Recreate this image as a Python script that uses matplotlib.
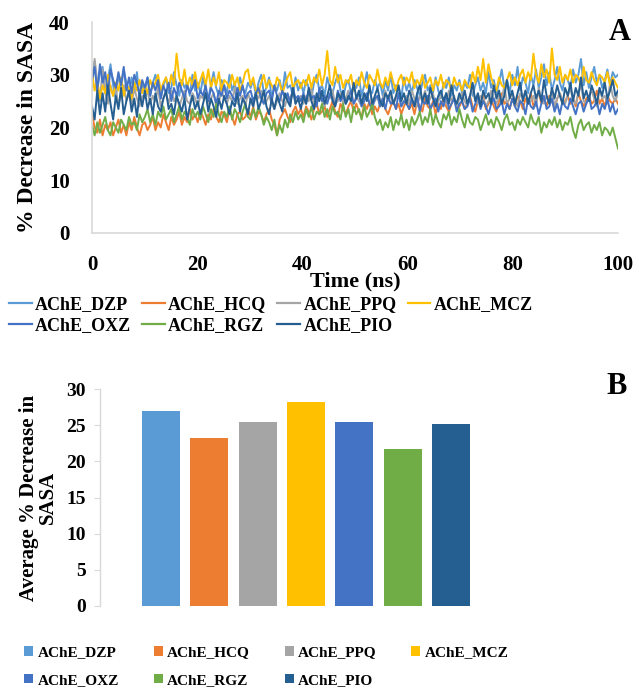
import numpy as np
import matplotlib
matplotlib.use("Agg")
import matplotlib.pyplot as plt
from matplotlib.lines import Line2D
from matplotlib.patches import Patch

plt.rcParams['font.family'] = ['Liberation Serif', 'DejaVu Serif']
plt.rcParams['font.weight'] = 'bold'

names = ["AChE_DZP", "AChE_HCQ", "AChE_PPQ", "AChE_MCZ", "AChE_OXZ", "AChE_RGZ", "AChE_PIO"]
colors = ["#5B9BD5", "#ED7D31", "#A5A5A5", "#FFC000", "#4472C4", "#70AD47", "#255E91"]

# Panel A: % decrease in SASA over time, 0-100 ns
DZP = [29.5, 32.5, 27.0, 30.5, 31.5, 26.5, 29.0, 32.0, 28.0, 25.5, 30.0, 27.5, 31.0, 28.5, 26.0, 29.5, 27.0, 30.5, 25.5, 28.0,
       27.0, 29.5, 26.0, 28.5, 30.0, 27.5, 25.5, 28.0, 29.5, 26.5, 27.5, 30.5, 28.0, 26.0, 29.0, 27.5, 28.5, 26.0, 30.0, 27.0,
       28.5, 26.5, 29.5, 27.0, 25.5, 28.0, 30.5, 27.5, 26.0, 29.0, 28.0, 26.5, 30.0, 27.0, 28.5, 25.5, 29.5, 27.5, 26.5, 28.5,
       27.5, 29.0, 26.0, 28.5, 30.0, 26.5, 27.5, 29.5, 25.5, 28.0, 27.0, 29.0, 26.5, 30.5, 27.5, 28.0, 26.0, 29.5, 27.0, 28.5,
       26.5, 29.0, 27.5, 25.5, 28.5, 30.0, 27.0, 28.0, 26.0, 29.5, 27.5, 26.5, 28.5, 30.0, 27.0, 25.5, 28.0, 29.0, 26.5, 28.0,
       27.5, 29.5, 26.0, 28.0, 30.5, 27.0, 26.5, 29.0, 27.5, 28.5, 26.0, 29.0, 27.0, 30.0, 26.5, 28.0, 27.5, 25.5, 29.5, 27.0,
       28.5, 26.5, 29.0, 27.5, 26.0, 28.5, 30.0, 27.0, 28.0, 26.5, 29.5, 27.0, 25.5, 28.5, 27.5, 29.5, 26.0, 28.0, 27.0, 29.0,
       26.5, 28.5, 27.5, 30.0, 26.0, 28.0, 29.5, 27.0, 28.5, 26.5, 30.5, 27.5, 29.0, 26.5, 28.5, 31.0, 27.5, 29.0, 26.5, 30.0,
       28.0, 31.5, 27.0, 29.5, 28.5, 26.5, 30.0, 28.0, 31.0, 27.5, 29.5, 32.0, 28.0, 30.5, 27.0, 29.0, 31.5, 28.5, 27.0, 30.0,
       29.0, 27.5, 31.0, 28.5, 30.0, 33.0, 28.0, 30.5, 27.5, 29.5, 31.5, 28.5, 30.0, 27.5, 29.0, 31.0, 28.0, 30.5, 29.5, 30.0]
HCQ = [22.5, 20.0, 19.0, 21.5, 18.5, 20.5, 19.5, 21.0, 18.5, 20.0, 21.5, 19.0, 20.5, 18.5, 21.0, 19.5, 22.0, 20.0, 18.5, 20.5,
       21.0, 19.5, 20.5, 22.0, 19.5, 21.0, 20.0, 22.5, 21.0, 19.5, 22.0, 20.5, 21.5, 23.0, 20.5, 22.0, 21.0, 23.5, 21.5, 22.5,
       21.0, 23.0, 22.0, 20.5, 22.5, 21.5, 23.5, 22.0, 21.0, 23.0, 22.5, 21.0, 23.5, 22.0, 20.5, 22.5, 23.0, 21.5, 22.0, 23.5,
       22.0, 24.0, 21.5, 23.0, 22.5, 21.0, 22.5, 23.5, 21.5, 20.5, 18.5, 21.5, 22.5, 23.5, 22.0, 21.0, 23.0, 24.0, 22.5, 23.5,
       22.0, 24.0, 23.0, 21.5, 23.5, 24.5, 22.5, 23.0, 24.0, 22.0, 23.5, 25.0, 23.0, 22.0, 24.5, 23.5, 22.5, 24.0, 25.0, 23.0,
       24.5, 23.0, 22.0, 24.5, 23.5, 25.0, 22.5, 24.0, 23.0, 24.5, 25.5, 23.5, 22.5, 24.0, 25.0, 23.5, 24.5, 22.5, 24.0, 25.0,
       23.5, 24.5, 22.5, 25.0, 24.0, 23.0, 25.5, 24.0, 23.5, 25.0, 22.5, 24.5, 23.5, 25.5, 24.0, 23.0, 24.5, 25.5, 23.5, 24.0,
       25.0, 23.5, 24.5, 26.0, 24.0, 23.0, 25.0, 24.5, 26.0, 23.5, 24.5, 25.5, 24.0, 23.0, 25.0, 26.5, 24.5, 25.0, 23.5, 25.5,
       24.0, 26.0, 25.0, 23.5, 25.5, 24.5, 26.5, 24.0, 25.0, 27.0, 24.5, 25.5, 24.0, 26.0, 25.0, 23.5, 25.5, 26.5, 24.5, 25.0,
       26.0, 24.5, 25.5, 24.0, 26.5, 25.0, 24.0, 25.5, 26.0, 24.5, 25.0, 27.0, 24.5, 25.5, 24.0, 26.0, 25.0, 24.5, 25.5, 24.5]
PPQ = [27.0, 33.0, 28.5, 25.0, 31.0, 26.5, 24.5, 28.0, 26.0, 27.5, 24.0, 26.5, 28.0, 25.0, 26.5, 24.5, 27.5, 25.5, 24.0, 26.0,
       25.5, 27.0, 24.5, 26.0, 25.0, 27.5, 24.0, 25.5, 26.5, 24.5, 27.0, 25.0, 26.0, 24.0, 25.5, 27.0, 25.0, 24.5, 26.5, 25.5,
       24.0, 26.0, 25.5, 27.0, 24.5, 25.5, 26.5, 24.0, 25.0, 27.0, 25.5, 24.5, 26.0, 25.0, 27.5, 24.5, 25.5, 26.0, 24.0, 26.5,
       25.0, 24.0, 26.5, 25.5, 27.0, 24.5, 25.0, 26.0, 24.5, 23.5, 25.0, 26.5, 25.0, 24.0, 26.0, 25.5, 27.0, 24.5, 25.5, 26.0,
       24.5, 26.0, 25.0, 27.5, 24.0, 25.5, 26.5, 25.0, 24.0, 26.0, 25.5, 27.0, 24.5, 25.0, 26.5, 24.5, 25.5, 27.0, 25.0, 24.5,
       26.0, 25.0, 24.0, 26.5, 25.5, 27.5, 24.5, 25.0, 26.0, 24.0, 25.5, 27.0, 25.0, 26.0, 24.5, 25.5, 26.5, 24.0, 25.0, 26.0,
       24.5, 27.0, 25.5, 24.0, 26.0, 25.0, 27.0, 24.5, 25.5, 26.5, 24.0, 25.0, 26.0, 25.5, 24.5, 27.0, 25.0, 26.0, 24.0, 25.5,
       26.5, 25.0, 24.0, 26.0, 27.5, 25.0, 24.5, 26.0, 25.5, 24.0, 25.0, 27.0, 25.5, 24.5, 26.0, 25.0, 28.0, 24.5, 25.5, 26.5,
       25.0, 24.0, 26.5, 25.5, 27.0, 24.5, 25.0, 26.0, 24.0, 27.5, 25.5, 24.5, 26.0, 25.0, 27.0, 24.0, 25.5, 26.5, 25.0, 24.5,
       26.0, 27.5, 25.0, 24.5, 26.5, 28.0, 25.0, 24.5, 26.0, 27.0, 25.5, 24.0, 27.5, 25.5, 26.0, 24.5, 28.5, 26.0, 25.0, 26.5]
MCZ = [30.5, 27.0, 29.0, 25.5, 28.0, 26.5, 30.0, 27.5, 26.0, 28.5, 27.0, 29.5, 26.0, 28.0, 27.5, 25.5, 28.5, 27.0, 29.0, 26.5,
       28.0, 26.5, 29.0, 27.5, 28.5, 30.0, 27.0, 28.5, 29.5, 27.5, 30.0, 28.0, 34.0, 29.5, 28.0, 31.0, 27.5, 29.5, 28.0, 30.5,
       27.5, 29.0, 30.5, 28.0, 31.0, 27.5, 29.5, 28.0, 30.5, 27.0, 29.0, 28.5, 27.5, 30.0, 28.0, 29.5, 27.0, 28.5, 30.5, 31.0,
       28.0, 29.5, 27.0, 26.5, 28.5, 30.0, 27.5, 29.0, 28.0, 27.0, 29.5, 28.5, 26.5, 28.0, 29.5, 30.5, 27.5, 28.5, 29.0, 27.5,
       29.0, 28.0, 30.0, 27.5, 29.5, 28.5, 31.0, 28.0, 30.0, 34.5, 29.0, 28.0, 31.5, 28.5, 30.0, 27.5, 29.0, 28.5, 30.0, 27.0,
       29.0, 28.0, 30.5, 28.5, 27.5, 30.0, 29.0, 28.0, 31.0, 28.5, 27.5, 29.5, 28.0, 30.5, 28.5, 27.0, 29.0, 30.0, 28.0, 29.5,
       28.5, 30.5, 27.5, 29.0, 28.0, 30.0, 27.5, 28.5, 29.5, 27.0, 29.0, 28.0, 30.0, 27.5, 29.0, 28.5, 27.0, 29.5, 28.0, 28.5,
       27.0, 29.0, 28.0, 27.5, 30.5, 28.5, 31.5, 29.0, 33.0, 28.5, 32.0, 29.5, 28.0, 27.0, 29.5, 28.0, 27.5, 29.0, 30.5, 28.0,
       29.5, 28.0, 30.0, 31.0, 28.5, 30.5, 29.0, 34.0, 30.0, 28.5, 32.0, 29.5, 31.0, 28.5, 35.0, 30.0, 29.0, 31.5, 28.5, 30.0,
       29.0, 31.0, 28.5, 30.0, 29.5, 28.0, 31.5, 29.0, 28.5, 30.5, 29.0, 28.0, 30.0, 29.5, 28.5, 30.5, 28.0, 29.5, 28.5, 27.5]
OXZ = [29.0, 31.5, 27.0, 32.0, 28.5, 30.5, 26.5, 31.0, 29.0, 27.5, 30.5, 28.0, 31.5, 27.0, 29.5, 26.5, 30.0, 28.5, 26.0, 29.0,
       27.5, 29.5, 26.0, 28.5, 27.0, 29.0, 25.5, 28.0, 26.5, 28.5, 25.0, 27.5, 26.0, 28.5, 27.0, 25.5, 28.0, 26.5, 27.5, 29.0,
       25.5, 27.0, 26.0, 28.0, 25.0, 27.5, 26.5, 24.5, 27.0, 26.0, 28.0, 25.5, 27.0, 26.0, 25.0, 27.5, 26.0, 28.0, 25.5, 26.5,
       27.0, 25.0, 26.5, 27.5, 25.5, 24.5, 26.5, 27.0, 25.0, 28.0, 26.0, 25.0, 27.0, 25.5, 26.5, 24.5, 27.5, 25.5, 26.0, 25.0,
       26.5, 24.5, 27.0, 25.5, 26.0, 24.0, 27.5, 25.0, 26.0, 24.5, 26.5, 25.5, 24.0, 27.0, 25.0, 26.0, 24.5, 25.5, 27.0, 24.5,
       25.5, 26.5, 24.0, 25.0, 26.5, 24.5, 23.5, 25.5, 26.0, 24.0, 25.5, 23.5, 26.0, 24.5, 25.0, 23.5, 26.5, 24.0, 25.0, 24.5,
       23.5, 25.5, 24.0, 26.0, 23.0, 25.0, 24.5, 26.0, 23.5, 24.5, 25.5, 23.0, 25.0, 24.0, 26.5, 23.5, 24.5, 25.5, 23.0, 24.5,
       25.0, 23.5, 24.0, 25.5, 23.0, 24.5, 26.0, 23.5, 25.0, 24.0, 22.5, 24.5, 25.5, 23.5, 24.0, 25.0, 22.5, 24.5, 23.5, 25.5,
       24.0, 23.0, 25.0, 24.5, 22.5, 25.5, 24.0, 23.5, 25.0, 22.5, 24.5, 26.0, 23.5, 24.0, 25.5, 23.0, 24.5, 22.5, 25.0, 24.0,
       23.5, 25.5, 24.0, 22.5, 24.5, 25.0, 23.0, 24.5, 26.0, 23.5, 24.0, 25.0, 22.5, 24.5, 23.5, 25.5, 23.0, 24.5, 22.5, 23.5]
RGZ = [20.5, 18.5, 21.0, 19.0, 20.5, 22.0, 19.5, 18.5, 21.0, 20.0, 19.0, 21.5, 20.5, 19.5, 22.0, 20.5, 21.0, 19.5, 22.5, 21.0,
       22.0, 23.5, 21.0, 22.5, 20.5, 23.0, 22.0, 24.0, 21.5, 22.5, 23.5, 21.0, 22.5, 24.0, 21.5, 23.0, 22.0, 20.5, 23.5, 22.0,
       23.0, 21.5, 24.0, 22.5, 21.0, 23.5, 22.0, 24.5, 22.5, 21.0, 23.0, 22.0, 24.0, 21.5, 23.5, 22.5, 21.0, 23.0, 24.5, 22.0,
       21.5, 23.5, 22.0, 24.0, 22.5, 20.5, 22.0, 21.0, 19.5, 21.5, 18.5, 20.5, 19.0, 21.5, 20.0, 22.5, 21.0, 23.0, 21.5, 22.5,
       21.0, 23.5, 22.0, 24.0, 21.5, 23.0, 22.5, 24.5, 22.0, 23.5, 21.5, 24.0, 22.5, 23.0, 21.5, 24.5, 22.0, 23.5, 21.0, 24.0,
       22.5, 23.5, 21.5, 24.0, 22.0, 23.0, 24.5, 22.0, 20.5, 21.5, 19.5, 21.0, 20.0, 22.0, 19.5, 21.5, 20.5, 22.5, 20.0, 21.5,
       19.5, 22.0, 20.5, 21.5, 23.0, 20.5, 22.0, 21.0, 23.5, 20.5, 22.5, 21.0, 20.0, 22.5, 21.5, 23.0, 20.5, 22.0, 21.0, 23.5,
       21.5, 20.0, 22.5, 21.0, 20.5, 22.0, 21.5, 19.5, 21.0, 22.5, 20.5, 21.5, 20.0, 22.0, 21.0, 19.5, 21.5, 22.5, 20.5, 21.0,
       19.5, 21.5, 20.5, 22.0, 21.0, 20.0, 22.5, 21.0, 20.5, 22.0, 19.0, 21.0, 20.0, 21.5, 20.5, 22.0, 20.0, 21.5, 19.5, 21.0,
       20.5, 22.0, 19.5, 18.0, 20.5, 21.5, 19.5, 20.5, 21.0, 19.0, 20.5, 19.5, 21.0, 18.5, 20.0, 19.5, 18.5, 20.0, 18.0, 16.0]
PIO = [24.0, 21.5, 27.0, 22.5, 26.5, 23.0, 28.0, 24.5, 21.5, 26.0, 23.5, 27.5, 22.5, 25.0, 27.0, 23.0, 25.5, 22.0, 26.5, 24.0,
       27.0, 23.5, 25.5, 22.5, 26.5, 24.0, 23.0, 25.5, 27.0, 23.5, 24.5, 22.5, 26.0, 24.5, 23.0, 25.5, 21.5, 24.0, 26.0, 23.5,
       25.0, 22.5, 24.5, 26.5, 23.0, 25.5, 24.0, 22.0, 25.5, 23.5, 26.0, 24.5, 22.5, 25.0, 24.0, 26.5, 23.0, 25.5, 24.5, 22.5,
       25.5, 24.0, 26.5, 23.5, 25.0, 27.0, 24.0, 22.5, 25.5, 23.5, 26.0, 24.5, 23.0, 26.5, 25.0, 24.0, 27.5, 24.5, 25.5, 23.5,
       26.0, 24.5, 27.5, 25.0, 23.5, 26.5, 25.0, 27.0, 24.5, 26.0, 28.0, 25.0, 24.0, 26.5, 25.5, 27.0, 24.5, 26.0, 25.0, 28.5,
       25.5, 27.0, 24.5, 26.5, 25.0, 28.0, 24.5, 26.0, 27.5, 25.0, 24.0, 26.5, 25.5, 27.0, 24.5, 26.0, 28.0, 25.0, 26.5, 24.5,
       27.0, 25.5, 24.0, 26.5, 28.0, 25.0, 26.5, 24.5, 27.5, 25.5, 24.0, 26.0, 27.0, 25.0, 26.5, 24.5, 28.0, 25.5, 24.5, 26.5,
       25.0, 27.0, 24.5, 26.0, 28.5, 25.0, 26.5, 24.0, 27.0, 25.5, 26.5, 24.5, 28.0, 25.5, 27.0, 24.5, 26.0, 29.0, 25.5, 27.0,
       24.5, 26.5, 28.5, 25.0, 27.0, 24.5, 26.5, 28.0, 25.5, 27.0, 25.0, 29.0, 26.0, 24.5, 27.5, 25.5, 28.0, 26.0, 24.5, 27.5,
       26.0, 28.5, 25.0, 27.5, 26.0, 29.5, 25.5, 27.0, 25.0, 28.0, 26.5, 24.5, 27.5, 26.0, 28.5, 25.5, 27.0, 29.0, 26.0, 27.0]
series = [DZP, HCQ, PPQ, MCZ, OXZ, RGZ, PIO]
t_start, t_end = 0, 100

# Panel B: average % decrease in SASA
averages = [27.0, 23.2, 25.4, 28.2, 25.4, 21.7, 25.2]

W, H = 639, 689
fig = plt.figure(figsize=(W / 100, H / 100), dpi=100)


def fx(px):
    return px / W


def fy(py):
    return 1 - py / H


def row_major(items, ncol):
    nrow = -(-len(items) // ncol)
    out = []
    for c in range(ncol):
        for r in range(nrow):
            k = r * ncol + c
            if k < len(items):
                out.append(items[k])
    return out


# ---------- Panel A ----------
axA = fig.add_axes([fx(92), fy(233), fx(618) - fx(92), fy(22) - fy(233)])
for s, c, n in zip(series, colors, names):
    t = np.linspace(t_start, t_end, len(s))
    axA.plot(t, s, color=c, lw=1.4, label=n)
axA.set_xlim(0, 100)
axA.set_ylim(0, 40)
axA.set_xticks([0, 20, 40, 60, 80, 100])
axA.set_yticks([0, 10, 20, 30, 40])
for sp in ["top", "right"]:
    axA.spines[sp].set_visible(False)
for sp in ["left", "bottom"]:
    axA.spines[sp].set_color("#D9D9D9")
    axA.spines[sp].set_linewidth(1.2)
axA.tick_params(axis="x", length=0, labelsize=15, pad=16)
axA.tick_params(axis="y", length=0, labelsize=15, pad=16)
for lab in axA.get_xticklabels() + axA.get_yticklabels():
    lab.set_fontweight("bold")
axA.set_xlabel("Time (ns)", fontsize=16, fontweight="bold", labelpad=-3)
axA.set_ylabel("% Decrease in SASA", fontsize=17, fontweight="bold", labelpad=8)
fig.text(fx(620), fy(32), "A", fontsize=22, fontweight="bold", ha="center", va="center")

handlesA = [Line2D([0], [0], color=c, lw=1.6) for c in colors]
fig.legend(row_major(handlesA, 4), row_major(names, 4), loc="upper left",
           bbox_to_anchor=(fx(9), fy(296)), ncol=4,
           frameon=False, handlelength=1.25, handletextpad=0.2,
           columnspacing=0.6, labelspacing=0.25, borderaxespad=0, borderpad=0,
           prop={"weight": "bold", "size": 13})

# ---------- Panel B ----------
axB = fig.add_axes([fx(100), fy(606), fx(512) - fx(100), fy(389) - fy(606)])
x = np.arange(len(averages))
axB.bar(x, averages, width=0.79, color=colors)
axB.set_xlim(-1.26, len(averages) - 1 + 1.26)
axB.set_ylim(0, 30)
axB.set_yticks([0, 5, 10, 15, 20, 25, 30])
axB.set_xticks([])
for sp in ["top", "right", "bottom"]:
    axB.spines[sp].set_visible(False)
axB.spines["left"].set_color("#D9D9D9")
axB.spines["left"].set_linewidth(1.0)
axB.tick_params(axis="y", length=4, color="#D9D9D9", labelsize=14, pad=6)
for lab in axB.get_yticklabels():
    lab.set_fontweight("bold")
axB.set_ylabel("Average % Decrease in\nSASA", fontsize=15, fontweight="bold", labelpad=6,
               linespacing=0.95)
fig.text(fx(617), fy(386), "B", fontsize=22, fontweight="bold", ha="center", va="center")

handlesB = [Patch(facecolor=c) for c in colors]
fig.legend(row_major(handlesB, 4), row_major(names, 4), loc="upper left",
           bbox_to_anchor=(fx(24), fy(646)), ncol=4,
           frameon=False, handlelength=0.6, handleheight=0.6, handletextpad=0.3,
           columnspacing=2.25, labelspacing=0.95, borderaxespad=0, borderpad=0,
           prop={"weight": "bold", "size": 11})

fig.savefig("out.png", dpi=100)
